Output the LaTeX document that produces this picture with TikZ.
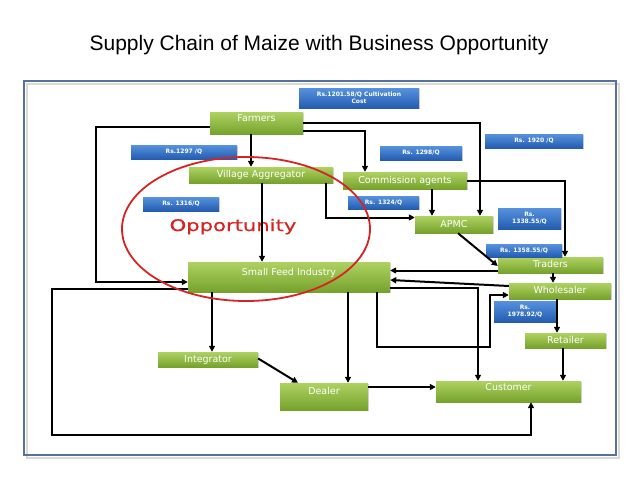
\documentclass[tikz,border=0pt]{standalone}
\usepackage{fontspec}
\setmainfont{DejaVu Sans}
\newfontfamily\titlefont{Liberation Sans}
\newfontfamily\oppfont[FakeStretch=1.32,FakeBold=0.6]{DejaVu Sans}
\usetikzlibrary{arrows.meta,shadows}
\definecolor{gtop}{RGB}{174,210,98}
\definecolor{gbot}{RGB}{118,162,44}
\definecolor{btop}{RGB}{86,146,222}
\definecolor{bbot}{RGB}{36,92,176}
\definecolor{framec}{RGB}{84,114,156}
\definecolor{oppred}{RGB}{214,36,36}
\tikzset{
  gbox/.style={draw=none, top color=gtop, bottom color=gbot, text=white,
    font=\fontsize{9.5}{11}\selectfont, inner sep=1pt, text height=7pt, text depth=2pt,
    drop shadow={shadow xshift=1.2pt, shadow yshift=-1.2pt, opacity=0.3}},
  tup/.style={text depth=#1},
  bbox/.style={draw=none, top color=btop, bottom color=bbot, text=white,
    font=\fontsize{6}{7}\selectfont\bfseries, align=center, inner sep=0.5pt,
    drop shadow={shadow xshift=1pt, shadow yshift=-1pt, opacity=0.3}},
  conn/.style={line width=2pt, draw=black, -{Triangle[length=6pt,width=6pt]}},
  frame/.style={line width=2.5pt, draw=framec},
  title/.style={font=\titlefont\fontsize{21}{25}\selectfont, anchor=base},
  opp/.style={font=\oppfont\fontsize{16}{18}\selectfont, text=oppred, anchor=base},
  redring/.style={line width=1.8pt, draw=oppred}
}
\begin{document}
\begin{tikzpicture}[x=1pt,y=-1pt]
\useasboundingbox (0,0) rectangle (638,479);
\fill[white] (0,0) rectangle (638,479);
\node[title] (title) at (319,50) {Supply Chain of Maize with Business Opportunity};
\draw[line width=2pt, draw=black!15] (26.5,83.5) rectangle (618.5,457.5);
\draw[frame] (24,81) rectangle (616,455);
\node[opp] (opp) at (233,231) {Opportunity};

% green boxes
\node[gbox, tup=11pt, minimum width=93pt, minimum height=22pt] (far) at (256.5,123) {Farmers};
\node[gbox, minimum width=144pt, minimum height=16pt] (va) at (261,175) {Village Aggregator};
\node[gbox, minimum width=124pt, minimum height=17pt] (ca) at (405,180.5) {Commission agents};
\node[gbox, minimum width=78pt, minimum height=17pt] (apmc) at (454,224.5) {APMC};
\node[gbox, minimum width=105pt, minimum height=16pt] (traders) at (550.5,265) {Traders};
\node[gbox, minimum width=102pt, minimum height=16pt] (wh) at (560,291) {Wholesaler};
\node[gbox, minimum width=81pt, minimum height=15pt] (ret) at (565.5,340.5) {Retailer};
\node[gbox, tup=10pt, minimum width=202pt, minimum height=30pt] (sfi) at (289,277) {Small Feed Industry};
\node[gbox, minimum width=100pt, minimum height=15pt] (integ) at (208,359.5) {Integrator};
\node[gbox, tup=11pt, minimum width=88pt, minimum height=27pt] (dealer) at (324,396.5) {Dealer};
\node[gbox, tup=9pt, minimum width=145pt, minimum height=21pt] (cust) at (508.5,391.5) {Customer};

% blue boxes
\node[bbox, minimum width=120pt, minimum height=20pt] (b1201) at (359,98) {Rs.1201.58/Q Cultivation\\Cost};
\node[bbox, minimum width=106pt, minimum height=14pt] (b1297) at (184,152) {Rs.1297 /Q};
\node[bbox, minimum width=76pt, minimum height=14pt] (b1316) at (181,204) {Rs. 1316/Q};
\node[bbox, minimum width=82pt, minimum height=14pt] (b1298) at (421,153) {Rs. 1298/Q};
\node[bbox, minimum width=98pt, minimum height=14pt] (b1920) at (534,141) {Rs. 1920 /Q};
\node[bbox, minimum width=71pt, minimum height=13pt] (b1324) at (383.5,202.5) {Rs. 1324/Q};
\node[bbox, minimum width=63pt, minimum height=21pt] (b1338) at (529.5,218.5) {Rs.\\1338.55/Q};
\node[bbox, minimum width=76pt, minimum height=13pt] (b1358) at (524,250.5) {Rs. 1358.55/Q};
\node[bbox, minimum width=62pt, minimum height=21pt] (b1978) at (525,311.5) {Rs.\\1978.92/Q};

% bend points
\coordinate (b1) at (96,282);
\coordinate (b2) at (490,347);
\coordinate (b3) at (52,435);

% connectors
\draw[conn] ([yshift=-4pt]far.west) -| (b1) -- (b1 -| sfi.west);
\draw[conn] ([xshift=-5.5pt]far.south) -- ([xshift=-5.5pt]far.south |- va.north);
\draw[conn] ([yshift=-8pt]far.east) -| ([xshift=-40pt]ca.north);
\draw[conn] (far.east) -| ([xshift=26pt]apmc.north);
\draw[conn] ([xshift=1pt]va.south) -- ([xshift=1pt]va.south |- sfi.north);
\draw[conn] ([xshift=65pt]va.south) |- ([yshift=7pt]apmc.west);
\draw[conn] ([xshift=27pt]ca.south) -- ([xshift=27pt]ca.south |- apmc.north);
\draw[conn] (ca.east) -| ([xshift=14.5pt]traders.north);
\draw[conn] ([xshift=4pt]apmc.south) -- ([yshift=-1pt]traders.west);
\draw[conn] ([yshift=-5.5pt]traders.west) -- ([yshift=-5.5pt]traders.west -| sfi.east);
\draw[conn] ([xshift=2.5pt]traders.south) -- ([xshift=2.5pt]traders.south |- wh.north);
\draw[conn] ([yshift=5pt]wh.west) -- ([yshift=-3pt]sfi.east);
\draw[conn] ([yshift=-11pt]sfi.east) -| ([xshift=-30.5pt]cust.north);
\draw[conn] ([xshift=88pt]sfi.south) |- (b2) |- ([yshift=-4pt]wh.west);
\draw[conn] ([xshift=-77pt]sfi.south) -- ([xshift=-77pt]sfi.south |- integ.north);
\draw[conn] ([xshift=59pt]sfi.south) -- ([xshift=59pt]sfi.south |- dealer.north);
\draw[conn] ([yshift=1pt]integ.east) -- ([xshift=-26pt]dealer.north);
\draw[conn] ([yshift=9.5pt]dealer.east) -- ([yshift=9.5pt]dealer.east -| cust.west);
\draw[conn] ([xshift=-3pt]wh.south) -- ([xshift=-3pt]wh.south |- ret.north);
\draw[conn] ([xshift=-2.5pt]ret.south) -- ([xshift=-2.5pt]ret.south |- cust.north);
\draw[conn] ([yshift=-12pt]sfi.west) -| (b3) -| ([xshift=22.5pt]cust.south);

% opportunity ring
\draw[redring] (246,229) ellipse [x radius=124pt, y radius=72pt];
\end{tikzpicture}
\end{document}
